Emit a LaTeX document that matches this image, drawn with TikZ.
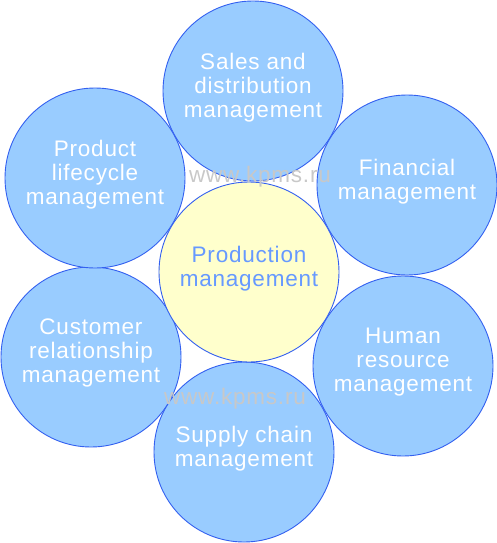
\documentclass[tikz,border=0pt]{standalone}
\usepackage{fontspec}
\setmainfont{Liberation Sans}[LetterSpace=3.5]
\definecolor{bubble}{HTML}{99CCFF}
\definecolor{ring}{HTML}{3360F0}
\definecolor{core}{HTML}{FFFFCC}
\definecolor{coretext}{HTML}{6699FF}
\definecolor{mark}{HTML}{C8C8C8}

\begin{document}
\begin{tikzpicture}[x=1pt,y=-1pt,
    main node/.style={circle,draw=ring,line width=0.9pt,minimum size=180pt,inner sep=0pt,align=center,text depth=12pt,font=\fontsize{22.5}{24}\selectfont},
    sub node/.style={main node,fill=bubble,text=white},
    web mark/.style={text=mark,font=\fontsize{22.5}{24}\selectfont,inner sep=0pt,anchor=base}]

            \useasboundingbox (0,0) rectangle (497,543);

            \node[sub node] (sales) at (253,91) {Sales and\\distribution\\management};
            \node[sub node] (fin) at (407,185) {Financial\\management};
            \node[sub node] (hr) at (403,366) {Human\\resource\\management};
            \node[sub node] (scm) at (244,452) {Supply chain\\management};
            \node[sub node] (crm) at (91,357) {Customer\\relationship\\management};
            \node[sub node] (plm) at (95,178) {Product\\lifecycle\\management};

            \node[main node, fill=core, text=coretext] (prod) at (249,272) {Production\\management};

            \node[web mark] (wm1) at (260,182) {www.kpms.ru};
            \node[web mark] (wm2) at (235,404) {www.kpms.ru};

        \end{tikzpicture}
\end{document}
